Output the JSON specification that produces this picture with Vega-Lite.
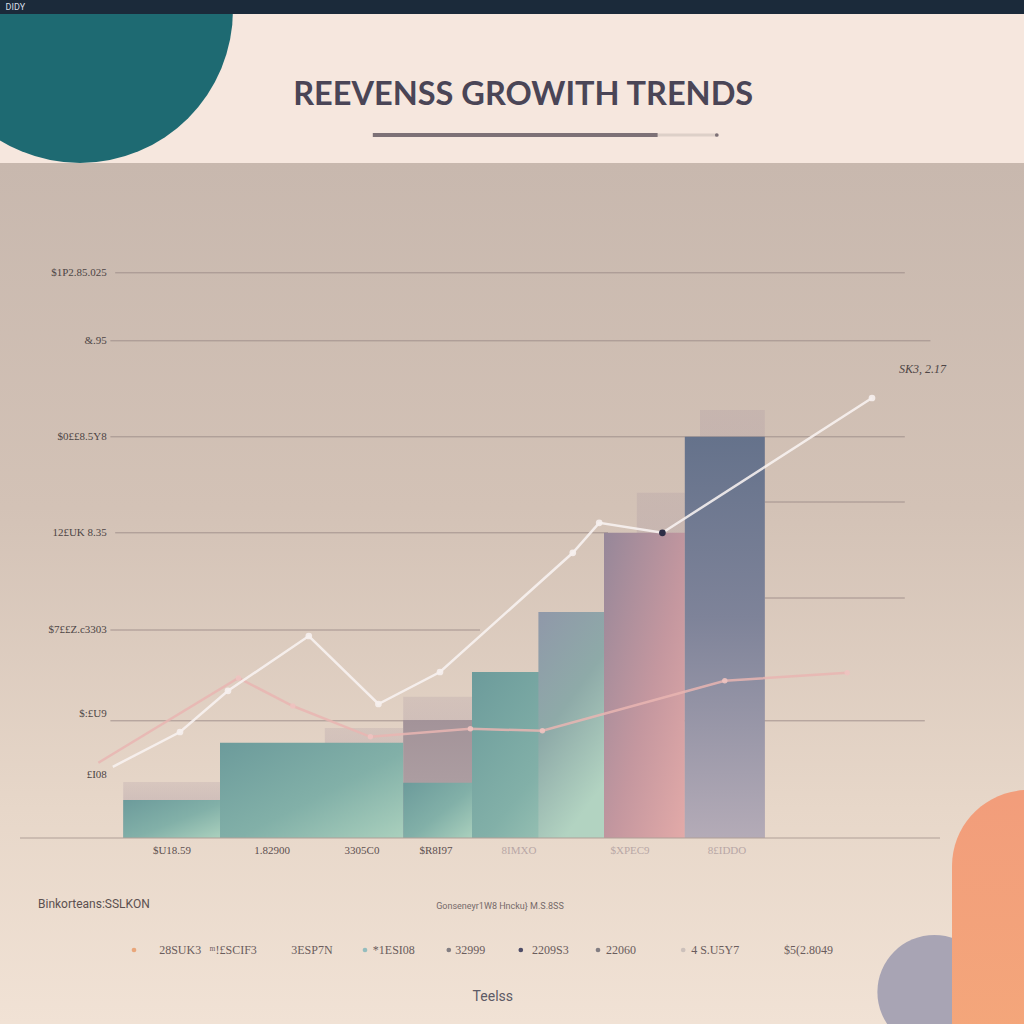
{
  "$schema": "https://vega.github.io/schema/vega-lite/v6.json",
  "width": 1024,
  "height": 1024,
  "autosize": {"type": "none"},
  "padding": 0,
  "background": "#f6e7de",
  "config": {"view": {"stroke": null}},
  "datasets": {
    "grid": [
      {"level": 14.13, "from": 1.44, "to": 11.31},
      {"level": 12.43, "from": 1.38, "to": 11.63},
      {"level": 10.03, "from": 1.38, "to": 11.31},
      {"level": 8.4, "from": 9.56, "to": 11.31},
      {"level": 7.63, "from": 1.44, "to": 7.6},
      {"level": 6.0, "from": 9.56, "to": 11.31},
      {"level": 5.2, "from": 1.38, "to": 6.0},
      {"level": 2.93, "from": 1.38, "to": 11.56}
    ],
    "yLabels": [
      {"level": 14.125, "label": "$1P2.85.025"},
      {"level": 12.425, "label": "&.95"},
      {"level": 10.025, "label": "$0££8.5Y8"},
      {"level": 7.625, "label": "12£UK 8.35"},
      {"level": 5.2, "label": "$7££Z.c3303"},
      {"level": 3.1, "label": "$:£U9"},
      {"level": 1.575, "label": "£I08"}
    ],
    "xLabels": [
      {"pos": 2.15, "label": "$U18.59"},
      {"pos": 3.4, "label": "1.82900"},
      {"pos": 4.525, "label": "3305C0"},
      {"pos": 5.45, "label": "$R8I97"},
      {"pos": 6.4875, "label": "8IMXO"},
      {"pos": 7.875, "label": "$XPEC9"},
      {"pos": 9.0875, "label": "8£IDDO"}
    ],
    "shadows": [
      {"period": "P1", "start": 1.54, "end": 2.75, "revenue": 1.4},
      {"period": "P2", "start": 4.06, "end": 5.04, "revenue": 2.75},
      {"period": "P3", "start": 5.04, "end": 5.9, "revenue": 3.53},
      {"period": "P6", "start": 7.96, "end": 8.56, "revenue": 8.63},
      {"period": "P7", "start": 8.75, "end": 9.56, "revenue": 10.7}
    ],
    "bars": [
      {"period": "P1", "start": 1.54, "end": 2.75, "revenue": 0.95, "tone": "teal"},
      {"period": "P2", "start": 2.75, "end": 5.04, "revenue": 2.38, "tone": "teal"},
      {"period": "P3", "start": 5.04, "end": 5.9, "revenue": 2.95, "tone": "mauve"},
      {"period": "P3", "start": 5.04, "end": 5.9, "revenue": 1.38, "tone": "teal"},
      {"period": "P4", "start": 5.9, "end": 7.55, "revenue": 4.15, "tone": "teal"},
      {"period": "P5", "start": 6.73, "end": 7.55, "revenue": 5.65, "tone": "blue"},
      {"period": "P6", "start": 7.55, "end": 8.56, "revenue": 7.63, "tone": "rose"},
      {"period": "P7", "start": 8.56, "end": 9.56, "revenue": 10.03, "tone": "slate"}
    ],
    "lines": [
      {"series": "Growth", "n": 1, "t": 1.41, "v": 1.78},
      {"series": "Growth", "n": 2, "t": 2.25, "v": 2.65},
      {"series": "Growth", "n": 3, "t": 2.85, "v": 3.68},
      {"series": "Growth", "n": 4, "t": 3.86, "v": 5.05},
      {"series": "Growth", "n": 5, "t": 4.73, "v": 3.35},
      {"series": "Growth", "n": 6, "t": 5.5, "v": 4.15},
      {"series": "Growth", "n": 7, "t": 7.16, "v": 7.13},
      {"series": "Growth", "n": 8, "t": 7.49, "v": 7.88},
      {"series": "Growth", "n": 9, "t": 8.28, "v": 7.63},
      {"series": "Growth", "n": 10, "t": 10.9, "v": 11.0},
      {"series": "Baseline", "n": 1, "t": 1.23, "v": 1.88},
      {"series": "Baseline", "n": 2, "t": 2.98, "v": 4.0},
      {"series": "Baseline", "n": 3, "t": 3.66, "v": 3.3},
      {"series": "Baseline", "n": 4, "t": 4.63, "v": 2.53},
      {"series": "Baseline", "n": 5, "t": 5.88, "v": 2.73},
      {"series": "Baseline", "n": 6, "t": 6.78, "v": 2.68},
      {"series": "Baseline", "n": 7, "t": 9.06, "v": 3.93},
      {"series": "Baseline", "n": 8, "t": 10.59, "v": 4.13}
    ],
    "legend": [
      {"label": "28SUK3", "at": 1.99, "dotAt": 1.675, "tone": "orange"},
      {"label": "ᵐ!£SCIF3", "at": 2.62, "dotAt": null, "tone": "none"},
      {"label": "3ESP7N", "at": 3.64, "dotAt": null, "tone": "none"},
      {"label": "*1ESI08", "at": 4.66, "dotAt": 4.5625, "tone": "teal"},
      {"label": "32999", "at": 5.69, "dotAt": 5.61, "tone": "gray"},
      {"label": "2209S3", "at": 6.65, "dotAt": 6.51, "tone": "navy"},
      {"label": "22060", "at": 7.575, "dotAt": 7.475, "tone": "gray"},
      {"label": "4 S.U5Y7", "at": 8.64, "dotAt": 8.54, "tone": "faint"},
      {"label": "$5(2.8049", "at": 9.8, "dotAt": null, "tone": "none"}
    ]
  },
  "layer": [
    {
      "data": {"values": [{}]},
      "mark": {"type": "point", "shape": "circle", "filled": true, "size": 93600, "color": "#1e6a72", "opacity": 1},
      "encoding": {
        "x": {"datum": 1.0, "type": "quantitative", "scale": {"domain": [0, 12.8], "nice": false, "zero": false}, "axis": null},
        "y": {"datum": 20.7, "type": "quantitative", "scale": {"domain": [-4.65, 20.95], "nice": false, "zero": false}, "axis": null}
      }
    },
    {
      "data": {"values": [{}]},
      "mark": {"type": "rect", "fill": {"gradient": "linear", "x1": 0, "y1": 0, "x2": 0, "y2": 1, "stops": [
        {"offset": 0, "color": "#c8b8ae"},
        {"offset": 0.4, "color": "#d3c2b6"},
        {"offset": 0.75, "color": "#e7d7c9"},
        {"offset": 1, "color": "#f1e2d5"}
      ]}},
      "encoding": {
        "x": {"datum": 0, "type": "quantitative", "axis": null},
        "x2": {"datum": 12.8},
        "y": {"datum": 16.875, "type": "quantitative", "axis": null},
        "y2": {"datum": -4.65}
      }
    },
    {
      "data": {"values": [{}]},
      "mark": {"type": "rect", "color": "#1b2a3a"},
      "encoding": {
        "x": {"datum": 0, "type": "quantitative", "axis": null},
        "x2": {"datum": 12.8},
        "y": {"datum": 20.6, "type": "quantitative", "axis": null},
        "y2": {"datum": 20.95}
      }
    },
    {
      "data": {"values": [{}]},
      "mark": {"type": "text", "text": "DIDY", "align": "left", "baseline": "middle", "font": "Roboto", "fontSize": 9, "color": "#d8dde6"},
      "encoding": {
        "x": {"datum": 0.07, "type": "quantitative", "axis": null},
        "y": {"datum": 20.78, "type": "quantitative", "axis": null}
      }
    },
    {
      "data": {"name": "grid"},
      "mark": {"type": "rule", "color": "#9a8a86", "strokeWidth": 1, "opacity": 0.85},
      "encoding": {
        "x": {"field": "from", "type": "quantitative", "axis": null},
        "x2": {"field": "to"},
        "y": {"field": "level", "type": "quantitative", "axis": null}
      }
    },
    {
      "data": {"name": "yLabels"},
      "mark": {"type": "text", "align": "right", "baseline": "middle", "font": "Liberation Serif", "fontSize": 11, "color": "#4d4545"},
      "encoding": {
        "x": {"datum": 1.335, "type": "quantitative", "axis": null},
        "y": {"field": "level", "type": "quantitative", "axis": null},
        "text": {"field": "label"}
      }
    },
    {
      "data": {"name": "shadows"},
      "mark": {"type": "rect", "fill": {"gradient": "linear", "x1": 0, "y1": 0, "x2": 0, "y2": 1, "stops": [
        {"offset": 0, "color": "rgba(160,140,155,0.2)"},
        {"offset": 1, "color": "rgba(160,140,155,0.55)"}
      ]}},
      "encoding": {
        "x": {"field": "start", "type": "quantitative", "axis": null},
        "x2": {"field": "end"},
        "y": {"field": "revenue", "type": "quantitative", "axis": null},
        "y2": {"datum": 0}
      }
    },
    {
      "data": {"name": "bars"},
      "transform": [{"filter": "datum.tone == 'mauve'"}],
      "mark": {"type": "rect", "fill": {"gradient": "linear", "x1": 0, "y1": 0, "x2": 0, "y2": 1, "stops": [
        {"offset": 0, "color": "#a39399"},
        {"offset": 1, "color": "#b4a6a8"}
      ]}},
      "encoding": {
        "x": {"field": "start", "type": "quantitative", "axis": null},
        "x2": {"field": "end"},
        "y": {"field": "revenue", "type": "quantitative", "axis": null},
        "y2": {"datum": 0}
      }
    },
    {
      "data": {"name": "bars"},
      "transform": [{"filter": "datum.tone == 'teal'"}],
      "mark": {"type": "rect", "fill": {"gradient": "linear", "x1": 0, "y1": 0, "x2": 1, "y2": 1, "stops": [
        {"offset": 0, "color": "#6c9b9b"},
        {"offset": 0.55, "color": "#82b0a8"},
        {"offset": 1, "color": "#aad0bd"}
      ]}},
      "encoding": {
        "x": {"field": "start", "type": "quantitative", "axis": null},
        "x2": {"field": "end"},
        "y": {"field": "revenue", "type": "quantitative", "axis": null},
        "y2": {"datum": 0}
      }
    },
    {
      "data": {"name": "bars"},
      "transform": [{"filter": "datum.tone == 'blue'"}],
      "mark": {"type": "rect", "fill": {"gradient": "linear", "x1": 0, "y1": 0, "x2": 0.4, "y2": 1, "stops": [
        {"offset": 0, "color": "#9098a9"},
        {"offset": 0.5, "color": "#8eaaa8"},
        {"offset": 1, "color": "#b2d3c1"}
      ]}},
      "encoding": {
        "x": {"field": "start", "type": "quantitative", "axis": null},
        "x2": {"field": "end"},
        "y": {"field": "revenue", "type": "quantitative", "axis": null},
        "y2": {"datum": 0}
      }
    },
    {
      "data": {"name": "bars"},
      "transform": [{"filter": "datum.tone == 'rose'"}],
      "mark": {"type": "rect", "fill": {"gradient": "linear", "x1": 0, "y1": 0, "x2": 1, "y2": 1, "stops": [
        {"offset": 0, "color": "#968799"},
        {"offset": 0.55, "color": "#c4979f"},
        {"offset": 1, "color": "#e3aaa8"}
      ]}},
      "encoding": {
        "x": {"field": "start", "type": "quantitative", "axis": null},
        "x2": {"field": "end"},
        "y": {"field": "revenue", "type": "quantitative", "axis": null},
        "y2": {"datum": 0}
      }
    },
    {
      "data": {"name": "bars"},
      "transform": [{"filter": "datum.tone == 'slate'"}],
      "mark": {"type": "rect", "fill": {"gradient": "linear", "x1": 0, "y1": 0, "x2": 0, "y2": 1, "stops": [
        {"offset": 0, "color": "#65728b"},
        {"offset": 0.45, "color": "#7e8399"},
        {"offset": 1, "color": "#b4abb7"}
      ]}},
      "encoding": {
        "x": {"field": "start", "type": "quantitative", "axis": null},
        "x2": {"field": "end"},
        "y": {"field": "revenue", "type": "quantitative", "axis": null},
        "y2": {"datum": 0}
      }
    },
    {
      "data": {"values": [{}]},
      "mark": {"type": "rule", "color": "#b0a098", "strokeWidth": 1.2},
      "encoding": {
        "x": {"datum": 0.25, "type": "quantitative", "axis": null},
        "x2": {"datum": 11.75},
        "y": {"datum": 0, "type": "quantitative", "axis": null}
      }
    },
    {
      "data": {"name": "xLabels"},
      "mark": {"type": "text", "align": "center", "baseline": "top", "font": "Liberation Serif", "fontSize": 11},
      "encoding": {
        "x": {"field": "pos", "type": "quantitative", "axis": null},
        "y": {"datum": -0.18, "type": "quantitative", "axis": null},
        "text": {"field": "label"},
        "color": {"condition": {"test": "datum.pos > 6", "value": "#b8a7a6"}, "value": "#5d5050"}
      }
    },
    {
      "data": {"name": "lines"},
      "transform": [{"filter": "datum.series == 'Baseline'"}],
      "mark": {"type": "line", "color": "#e9b5b2", "strokeWidth": 2.5, "opacity": 0.85},
      "encoding": {
        "x": {"field": "t", "type": "quantitative", "axis": null},
        "y": {"field": "v", "type": "quantitative", "axis": null},
        "order": {"field": "n"}
      }
    },
    {
      "data": {"name": "lines"},
      "transform": [{"filter": "datum.series == 'Baseline' && datum.n > 1"}],
      "mark": {"type": "point", "filled": true, "color": "#eec3c0", "size": 30, "opacity": 0.9},
      "encoding": {
        "x": {"field": "t", "type": "quantitative", "axis": null},
        "y": {"field": "v", "type": "quantitative", "axis": null}
      }
    },
    {
      "data": {"name": "lines"},
      "transform": [{"filter": "datum.series == 'Growth'"}],
      "mark": {"type": "line", "color": "#f8f3f1", "strokeWidth": 2.5, "opacity": 0.88},
      "encoding": {
        "x": {"field": "t", "type": "quantitative", "axis": null},
        "y": {"field": "v", "type": "quantitative", "axis": null},
        "order": {"field": "n"}
      }
    },
    {
      "data": {"name": "lines"},
      "transform": [{"filter": "datum.series == 'Growth' && datum.n > 1 && datum.n != 9"}],
      "mark": {"type": "point", "filled": true, "color": "#f6f0ee", "size": 45, "opacity": 0.9},
      "encoding": {
        "x": {"field": "t", "type": "quantitative", "axis": null},
        "y": {"field": "v", "type": "quantitative", "axis": null}
      }
    },
    {
      "data": {"name": "lines"},
      "transform": [{"filter": "datum.series == 'Growth' && datum.n == 9"}],
      "mark": {"type": "point", "filled": true, "color": "#2c2d46", "size": 45, "opacity": 1},
      "encoding": {
        "x": {"field": "t", "type": "quantitative", "axis": null},
        "y": {"field": "v", "type": "quantitative", "axis": null}
      }
    },
    {
      "data": {"values": [{}]},
      "mark": {"type": "text", "text": "SK3, 2.17", "align": "center", "baseline": "middle", "font": "Liberation Serif", "fontStyle": "italic", "fontSize": 12, "color": "#4d4545"},
      "encoding": {
        "x": {"datum": 11.53, "type": "quantitative", "axis": null},
        "y": {"datum": 11.73, "type": "quantitative", "axis": null}
      }
    },
    {
      "data": {"values": [{}]},
      "mark": {"type": "text", "text": "REEVENSS GROWITH TRENDS", "align": "center", "baseline": "alphabetic", "font": "Lato", "fontWeight": "bold", "fontSize": 32.5, "color": "#4a4556"},
      "encoding": {
        "x": {"datum": 6.54, "type": "quantitative", "axis": null},
        "y": {"datum": 18.33, "type": "quantitative", "axis": null}
      }
    },
    {
      "data": {"values": [{}]},
      "mark": {"type": "rule", "color": "#ddd0c8", "strokeWidth": 3},
      "encoding": {
        "x": {"datum": 8.2, "type": "quantitative", "axis": null},
        "x2": {"datum": 8.96},
        "y": {"datum": 17.575, "type": "quantitative", "axis": null}
      }
    },
    {
      "data": {"values": [{}]},
      "mark": {"type": "rule", "color": "#7d7176", "strokeWidth": 4},
      "encoding": {
        "x": {"datum": 4.66, "type": "quantitative", "axis": null},
        "x2": {"datum": 8.22},
        "y": {"datum": 17.575, "type": "quantitative", "axis": null}
      }
    },
    {
      "data": {"values": [{}]},
      "mark": {"type": "point", "filled": true, "color": "#7d7176", "size": 14, "opacity": 1},
      "encoding": {
        "x": {"datum": 8.96, "type": "quantitative", "axis": null},
        "y": {"datum": 17.575, "type": "quantitative", "axis": null}
      }
    },
    {
      "data": {"values": [{}]},
      "mark": {"type": "text", "text": "Binkorteans:SSLKON", "align": "left", "baseline": "middle", "font": "Roboto", "fontSize": 12, "color": "#5b5050"},
      "encoding": {
        "x": {"datum": 0.475, "type": "quantitative", "axis": null},
        "y": {"datum": -1.65, "type": "quantitative", "axis": null}
      }
    },
    {
      "data": {"values": [{}]},
      "mark": {"type": "text", "text": "Gonseneyr1W8 Hncku} M.S.8SS", "align": "center", "baseline": "middle", "font": "Roboto", "fontSize": 9, "color": "#766a6a"},
      "encoding": {
        "x": {"datum": 6.25, "type": "quantitative", "axis": null},
        "y": {"datum": -1.7, "type": "quantitative", "axis": null}
      }
    },
    {
      "data": {"name": "legend"},
      "transform": [{"filter": "datum.dotAt != null"}],
      "mark": {"type": "point", "filled": true, "size": 22, "opacity": 0.9},
      "encoding": {
        "x": {"field": "dotAt", "type": "quantitative", "axis": null},
        "y": {"datum": -2.8, "type": "quantitative", "axis": null},
        "color": {"field": "tone", "type": "nominal", "legend": null,
          "scale": {"domain": ["orange", "teal", "gray", "navy", "faint"], "range": ["#e8a070", "#8ab9bb", "#77737a", "#3d3d5c", "#c8bcb8"]}}
      }
    },
    {
      "data": {"name": "legend"},
      "mark": {"type": "text", "align": "left", "baseline": "middle", "font": "Liberation Serif", "fontSize": 12, "color": "#6a5c5c"},
      "encoding": {
        "x": {"field": "at", "type": "quantitative", "axis": null},
        "y": {"datum": -2.8, "type": "quantitative", "axis": null},
        "text": {"field": "label"}
      }
    },
    {
      "data": {"values": [{}]},
      "mark": {"type": "text", "text": "Teelss", "align": "center", "baseline": "middle", "font": "Roboto", "fontSize": 14, "color": "#5d5a66"},
      "encoding": {
        "x": {"datum": 6.16, "type": "quantitative", "axis": null},
        "y": {"datum": -3.97, "type": "quantitative", "axis": null}
      }
    },
    {
      "data": {"values": [{}]},
      "mark": {"type": "point", "shape": "circle", "filled": true, "size": 13000, "color": "#a8a4b4", "opacity": 1},
      "encoding": {
        "x": {"datum": 11.68, "type": "quantitative", "axis": null},
        "y": {"datum": -3.85, "type": "quantitative", "axis": null}
      }
    },
    {
      "data": {"values": [{}]},
      "mark": {"type": "rect", "cornerRadius": 76, "fill": {"gradient": "linear", "x1": 0, "y1": 0, "x2": 0, "y2": 1, "stops": [
        {"offset": 0, "color": "#f29d7b"},
        {"offset": 1, "color": "#f5ab7a"}
      ]}},
      "encoding": {
        "x": {"datum": 11.9, "type": "quantitative", "axis": null},
        "x2": {"datum": 14.5},
        "y": {"datum": 1.2, "type": "quantitative", "axis": null},
        "y2": {"datum": -8}
      }
    }
  ]
}
